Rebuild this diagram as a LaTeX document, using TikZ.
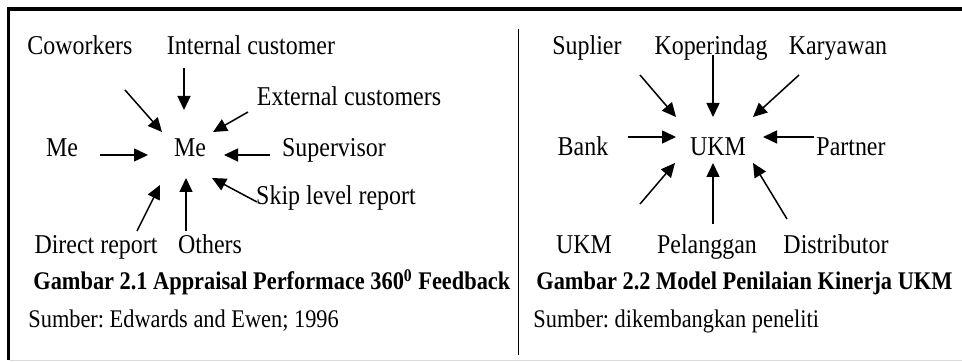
\documentclass[tikz,border=0pt]{standalone}
\usepackage{fontspec}
\setmainfont{Liberation Serif}[FakeStretch=0.88]
\usetikzlibrary{arrows.meta,calc}

\tikzset{
  lbl/.style={anchor=base, inner sep=0pt, font=\fontsize{13.6}{16}\selectfont},
  capt/.style={anchor=base west, inner sep=0pt, font=\bfseries\fontsize{12.7}{15}\selectfont},
  srce/.style={anchor=base west, inner sep=0pt, font=\fontsize{12.7}{15}\selectfont},
  arr/.style={-{Triangle[length=7pt,width=6.5pt]}, line width=0.75pt},
}

\begin{document}
\frenchspacing
\begin{tikzpicture}[x=0.5pt,y=-0.5pt]
        \useasboundingbox (0,0) rectangle (962,362);
        % frame and divider
        \draw[line width=1.8pt] (7,9) -- (962,9);
        \draw[line width=1.8pt] (8.5,8) -- (8.5,360);
        \draw[gray!30, line width=0.5pt] (10,361) -- (962,361);
        \draw[line width=0.5pt] (518,29) -- (518,355);

        % 360 feedback
        \node[lbl] (cow) at (80,55) {Coworkers};
        \node[lbl] (intc) at (251,55) {Internal customer};
        \node[lbl] (extc) at (349,106) {External customers};
        \node[lbl] (meL) at (62,157) {Me};
        \node[lbl] (me) at (190,157) {Me};
        \node[lbl] (sup) at (334,157) {Supervisor};
        \node[lbl] (skip) at (336,205) {Skip level report};
        \node[lbl] (dir) at (96,254) {Direct report};
        \node[lbl] (oth) at (210,254) {Others};
        \node[capt] (cap1) at (33,290) {Gambar 2.1 Appraisal Performace 360\textsuperscript{0} Feedback};
        \node[srce] (src1) at (28,328) {Sumber: Edwards and Ewen; 1996};

        \coordinate (cowT) at (125,90);   \coordinate (cowH) at (162,132);
        \coordinate (intcT) at (184,68);  \coordinate (intcH) at (184,110);
        \coordinate (extcT) at (248,112); \coordinate (extcH) at (213,132);
        \coordinate (meLT) at (100,155);  \coordinate (meLH) at (148,155);
        \coordinate (supT) at (270,155);  \coordinate (supH) at (224,155);
        \coordinate (skipT) at (257,202); \coordinate (skipH) at (212,178);
        \coordinate (othT) at (186,231);  \coordinate (othH) at (186,178);
        \coordinate (dirT) at (137,231);  \coordinate (dirH) at (160,185);
        \foreach \s in {cow,intc,extc,meL,sup,skip,oth,dir}
            \draw[arr] (\s T) -- (\s H);

        % model UKM
        \node[lbl] (supl) at (587,55) {Suplier};
        \node[lbl] (kop) at (711,55) {Koperindag};
        \node[lbl] (kar) at (838,55) {Karyawan};
        \node[lbl] (bank) at (583,156) {Bank};
        \node[lbl] (ukm) at (718,156) {UKM};
        \node[lbl] (part) at (851,156) {Partner};
        \node[lbl] (ukmB) at (584,254) {UKM};
        \node[lbl] (pel) at (707,254) {Pelanggan};
        \node[lbl] (dist) at (836,254) {Distributor};
        \node[capt] (cap2) at (536,290) {Gambar 2.2 Model Penilaian Kinerja UKM};
        \node[srce] (src2) at (533,328) {Sumber: dikembangkan peneliti};

        \coordinate (suplT) at (640,75);  \coordinate (suplH) at (676,117);
        \coordinate (kopT) at (713,55);   \coordinate (kopH) at (713,117);
        \coordinate (karT) at (799,75);   \coordinate (karH) at (753,117);
        \coordinate (bankT) at (628,137); \coordinate (bankH) at (676,137);
        \coordinate (partT) at (814,137); \coordinate (partH) at (763,137);
        \coordinate (ukmBT) at (640,204); \coordinate (ukmBH) at (675,163);
        \coordinate (pelT) at (713,224);  \coordinate (pelH) at (713,163);
        \coordinate (distT) at (787,219); \coordinate (distH) at (753,163);
        \foreach \s in {supl,kop,kar,bank,part,ukmB,pel,dist}
            \draw[arr] (\s T) -- (\s H);
\end{tikzpicture}
\end{document}
